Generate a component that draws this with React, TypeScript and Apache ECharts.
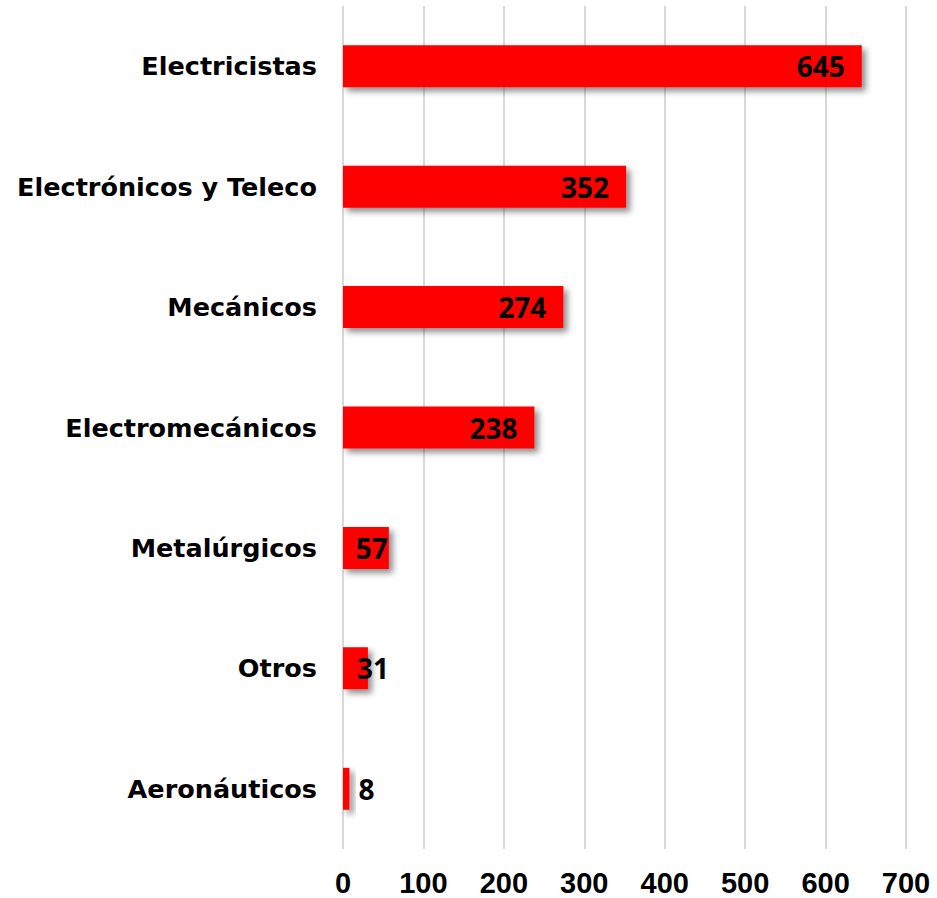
import React, { useEffect, useRef } from "react";
import * as echarts from "echarts";

const categories = [
  "Electricistas",
  "Electrónicos y Teleco",
  "Mecánicos",
  "Electromecánicos",
  "Metalúrgicos",
  "Otros",
  "Aeronáuticos",
];
const values = [645, 352, 274, 238, 57, 31, 8];
const xTicks = [0, 100, 200, 300, 400, 500, 600, 700];

function labelFor(v: number) {
  if (v >= 100) return { position: "insideRight", distance: 17 };
  if (v >= 50) return { position: "insideRight", distance: 1 };
  if (v >= 20) return { position: "insideLeft", distance: 14 };
  return { position: "right", distance: 9 };
}

export default function App() {
  const ref = useRef<HTMLDivElement>(null);
  useEffect(() => {
    if (!ref.current) return;
    const chart = echarts.init(ref.current, undefined, { renderer: "svg" });
    chart.setOption({
      animation: false,
      backgroundColor: "#ffffff",
      grid: { left: 343, right: 31, top: 6, bottom: 49, containLabel: false },
      xAxis: {
        type: "value",
        min: xTicks[0],
        max: xTicks[xTicks.length - 1],
        interval: 100,
        axisLine: { show: false },
        axisTick: { show: false },
        splitLine: { show: true, lineStyle: { color: "#d9d9d9", width: 2 } },
        axisLabel: {
          margin: 19,
          color: "#000",
          fontFamily: "'Liberation Sans', Arial, sans-serif",
          fontWeight: "bold",
          fontSize: 29,
        },
      },
      yAxis: {
        type: "category",
        data: categories,
        inverse: true,
        axisLine: { show: false },
        axisTick: { show: false },
        splitLine: { show: false },
        axisLabel: {
          margin: 26,
          color: "#000",
          fontFamily: "'DejaVu Sans', sans-serif",
          fontWeight: "bold",
          fontSize: 25.5,
        },
      },
      series: [
        {
          type: "bar",
          barWidth: 42,
          data: values.map((v) => ({
            value: v,
            label: labelFor(v),
          })),
          itemStyle: {
            color: "#ff0000",
            shadowColor: "rgba(0,0,0,0.45)",
            shadowBlur: 6,
            shadowOffsetX: 4,
            shadowOffsetY: 4,
          },
          label: {
            show: true,
            color: "#000",
            fontFamily: "'Open Sans', sans-serif",
            fontWeight: "bold",
            fontSize: 28,
          },
        },
      ],
    });
    return () => chart.dispose();
  }, []);
  return (
    <div
      ref={ref}
      style={{ position: "fixed", left: 0, top: 0, width: 937, height: 898 }}
    />
  );
}
